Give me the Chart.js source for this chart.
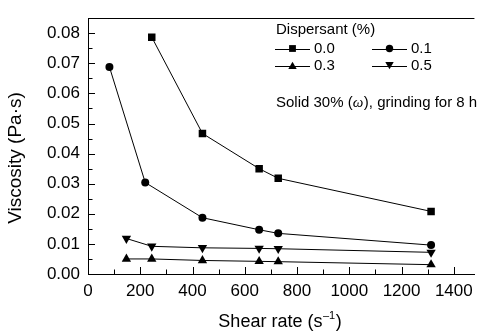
<!DOCTYPE html>
<html><head><meta charset="utf-8">
<script src="https://cdn.jsdelivr.net/npm/chart.js@4.4.1/dist/chart.umd.min.js"></script>
<style>html,body{margin:0;padding:0;background:#fff}#wrap{width:480px;height:333px}</style>
</head><body><div id="wrap"><canvas id="c" width="480" height="333"></canvas></div>
<script>
// ---- data ----
const shearRate00 = [244, 438, 655, 728, 1313];
const visc00      = [0.0787, 0.0467, 0.0350, 0.0318, 0.0208];
const shearRate01 = [82, 219, 438, 655, 728, 1313];
const visc01      = [0.0688, 0.0304, 0.0187, 0.0147, 0.0135, 0.0096];
const shearRate03 = [147, 244, 438, 655, 728, 1313];
const visc03      = [0.0050, 0.0050, 0.0045, 0.0042, 0.0041, 0.0031];
const shearRate05 = [147, 244, 438, 655, 728, 1313];
const visc05      = [0.0118, 0.0092, 0.0087, 0.0085, 0.0084, 0.0072];
const seriesLabels = ['0.0', '0.1', '0.3', '0.5'];
const xTicks = [0, 200, 400, 600, 800, 1000, 1200, 1400];
const yTicks = [0, 0.01, 0.02, 0.03, 0.04, 0.05, 0.06, 0.07, 0.08];
const legendTitle = 'Dispersant (%)';
const noteParts = ['Solid 30% (', '\u03C9', '), grinding for 8 h'];
const xTitle = ['Shear rate (s', '\u20131', ')'];
const yTitle = 'Viscosity (Pa\u00B7s)';

const FONT = "'Liberation Sans', Arial, sans-serif";
const pts = (xs, ys) => xs.map((x, i) => ({x: x, y: ys[i]}));

const styles = [
  {pointStyle: 'rect', radius: 5.3, rotation: 0},
  {pointStyle: 'circle', radius: 4, rotation: 0},
  {pointStyle: 'triangle', radius: 5.4, rotation: 0},
  {pointStyle: 'triangle', radius: 5.4, rotation: 180}
];
const seriesData = [pts(shearRate00, visc00), pts(shearRate01, visc01), pts(shearRate03, visc03), pts(shearRate05, visc05)];

const datasets = seriesData.map((d, i) => ({
  label: seriesLabels[i],
  data: d,
  showLine: true,
  borderColor: '#000',
  borderWidth: 1,
  backgroundColor: '#000',
  pointBackgroundColor: '#000',
  pointBorderWidth: 0,
  pointStyle: styles[i].pointStyle,
  pointRadius: styles[i].radius,
  pointRotation: styles[i].rotation,
  tension: 0
}));

function marker(ctx, style, x, y, s) {
  ctx.beginPath();
  if (style === 'rect') { ctx.rect(x - s / 2, y - s / 2, s, s); }
  else if (style === 'circle') { ctx.arc(x, y, s / 2, 0, Math.PI * 2); }
  else if (style === 'up') { ctx.moveTo(x, y - s * 0.45); ctx.lineTo(x + s / 2, y + s * 0.42); ctx.lineTo(x - s / 2, y + s * 0.42); ctx.closePath(); }
  else { ctx.moveTo(x, y + s * 0.45); ctx.lineTo(x + s / 2, y - s * 0.42); ctx.lineTo(x - s / 2, y - s * 0.42); ctx.closePath(); }
  ctx.fill();
}

const decor = {
  id: 'decor',
  afterDraw(chart) {
    const ctx = chart.ctx, a = chart.chartArea, xs = chart.scales.x, ys = chart.scales.y;
    ctx.save();
    ctx.strokeStyle = '#000'; ctx.fillStyle = '#000'; ctx.lineWidth = 1;
    // top frame line
    const ty = Math.round(a.top) + 0.5;
    ctx.beginPath(); ctx.moveTo(a.left, ty); ctx.lineTo(a.right, ty); ctx.stroke();
    // inward ticks (major + minor) on x
    for (let i = 0; i <= 14; i++) {
      const px = Math.round(xs.getPixelForValue(i * 100)) + 0.5;
      const len = i % 2 === 0 ? 7 : 4.5;
      ctx.beginPath(); ctx.moveTo(px, a.bottom); ctx.lineTo(px, a.bottom - len); ctx.stroke();
    }
    // inward ticks on y
    for (let i = 0; i <= 16; i++) {
      const py = Math.round(ys.getPixelForValue(i * 0.005)) + 0.5;
      const len = i % 2 === 0 ? 7 : 4.5;
      ctx.beginPath(); ctx.moveTo(a.left, py); ctx.lineTo(a.left + len, py); ctx.stroke();
    }
    // legend
    ctx.textBaseline = 'middle'; ctx.textAlign = 'left';
    ctx.font = '15px ' + FONT;
    ctx.fillText(legendTitle, 276, 30);
    const cols = [275, 372], rows = [48.5, 65.5];
    const mk = ['rect', 'circle', 'up', 'down'], ms = [6.8, 7.4, 8.4, 8.4];
    for (let i = 0; i < 4; i++) {
      const x0 = cols[i % 2], y0 = rows[Math.floor(i / 2)];
      ctx.beginPath(); ctx.moveTo(x0, Math.round(y0) + 0.5); ctx.lineTo(x0 + 35, Math.round(y0) + 0.5); ctx.stroke();
      marker(ctx, mk[i], x0 + 17.5, y0, ms[i]);
      ctx.fillText(seriesLabels[i], x0 + 39, y0 + 0.5);
    }
    // note
    let nx = 276; const ny = 103;
    ctx.font = '15px ' + FONT; ctx.fillText(noteParts[0], nx, ny); nx += ctx.measureText(noteParts[0]).width;
    ctx.font = "italic 15px 'Liberation Serif', 'Times New Roman', serif"; ctx.fillText(noteParts[1], nx, ny); nx += ctx.measureText(noteParts[1]).width + 0.5;
    ctx.font = '15px ' + FONT; ctx.fillText(noteParts[2], nx, ny);
    // x title with superscript
    ctx.textBaseline = 'alphabetic';
    ctx.font = '18px ' + FONT;
    const w0 = ctx.measureText(xTitle[0]).width, w2 = ctx.measureText(xTitle[2]).width;
    ctx.font = '11px ' + FONT;
    const w1 = ctx.measureText(xTitle[1]).width;
    let sx = 280 - (w0 + w1 + w2 + 1) / 2; const sy = 327;
    ctx.font = '18px ' + FONT; ctx.fillText(xTitle[0], sx, sy); sx += w0 + 0.5;
    ctx.font = '11px ' + FONT; ctx.fillText(xTitle[1], sx, sy - 8); sx += w1 + 0.5;
    ctx.font = '18px ' + FONT; ctx.fillText(xTitle[2], sx, sy);
    // y title
    ctx.translate(16, 158); ctx.rotate(-Math.PI / 2);
    ctx.textAlign = 'center'; ctx.textBaseline = 'middle';
    ctx.font = '19px ' + FONT;
    ctx.fillText(yTitle, 0, 0);
    ctx.restore();
  }
};

new Chart(document.getElementById('c'), {
  type: 'scatter',
  data: {datasets: datasets},
  options: {
    responsive: false,
    animation: false,
    devicePixelRatio: 1,
    layout: {padding: {top: 9, right: 0, left: 0, bottom: 0}},
    plugins: {legend: {display: false}, tooltip: {enabled: false}},
    scales: {
      x: {
        type: 'linear', min: 0, max: 1479,
        afterBuildTicks: s => { s.ticks = xTicks.map(v => ({value: v})); },
        afterFit: s => { s.height = 59; },
        grid: {drawOnChartArea: false, drawTicks: false},
        border: {display: true, color: '#000', width: 1},
        ticks: {color: '#000', font: {family: FONT, size: 17}, padding: 7, maxRotation: 0, autoSkip: false, callback: v => String(v)}
      },
      y: {
        type: 'linear', min: 0, max: 0.085,
        afterBuildTicks: s => { s.ticks = yTicks.map(v => ({value: v})); },
        afterFit: s => { s.width = 88; },
        grid: {drawOnChartArea: false, drawTicks: false},
        border: {display: true, color: '#000', width: 1},
        ticks: {color: '#000', font: {family: FONT, size: 17}, padding: 8, autoSkip: false, callback: v => v.toFixed(2)}
      }
    }
  },
  plugins: [decor]
});
</script></body></html>
